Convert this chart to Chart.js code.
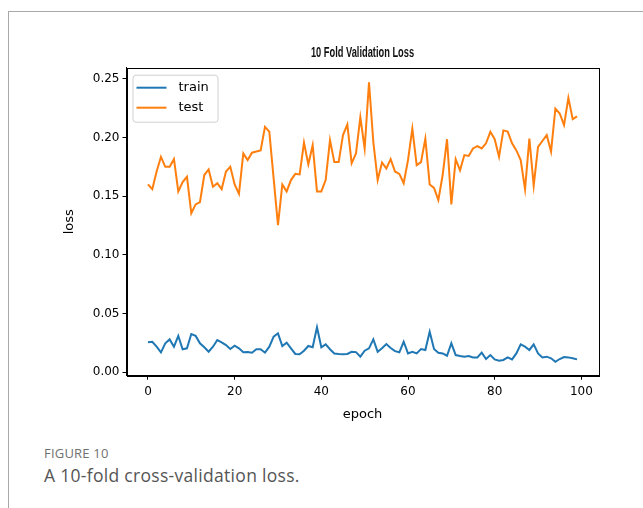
<!DOCTYPE html>
<html>
<head>
<meta charset="utf-8">
<script src="https://cdn.jsdelivr.net/npm/chart.js@4/dist/chart.umd.min.js"></script>
<style>
  html, body { margin: 0; padding: 0; background: #fff; }
  body { width: 643px; height: 508px; position: relative; overflow: hidden; }
  .frame {
    position: absolute; left: 8px; top: 11px; right: -5px; bottom: -5px;
    border-top: 1.5px solid #a8a8a8; border-left: 1.5px solid #a8a8a8;
  }
  #wrap { position: absolute; left: 0; top: 0; width: 643px; height: 430px; }
  .fig-num {
    position: absolute; left: 44px; top: 444px;
    font-family: "Open Sans", sans-serif; font-size: 13px; color: #707070;
    letter-spacing: 0.2px;
  }
  .fig-cap {
    position: absolute; left: 44px; top: 463px;
    font-family: "Open Sans", sans-serif; font-size: 17.5px; color: #555;
    letter-spacing: 0.3px;
  }
</style>
</head>
<body>
<div class="frame"></div>
<div id="wrap"><canvas id="lossChart"></canvas></div>
<div class="fig-num">FIGURE 10</div>
<div class="fig-cap">A 10-fold cross-validation loss.</div>
<script>
const epochs = Array.from({ length: 100 }, (_, i) => i);

const trainLoss = [
  0.0255, 0.026, 0.0218, 0.017, 0.0247, 0.028, 0.0218, 0.031, 0.0196, 0.0204,
  0.0326, 0.031, 0.0247, 0.0213, 0.0175, 0.0218, 0.0275, 0.0255, 0.0232, 0.0198,
  0.0226, 0.0204, 0.017, 0.0172, 0.0167, 0.0196, 0.0196, 0.0167, 0.0218, 0.0303,
  0.0332, 0.0224, 0.0252, 0.0204, 0.0156, 0.0153, 0.0184, 0.0224, 0.0213, 0.0383,
  0.0213, 0.0238, 0.0196, 0.016, 0.0156, 0.0153, 0.0156, 0.0175, 0.0172, 0.0133,
  0.0184, 0.0204, 0.028, 0.0175, 0.0204, 0.024, 0.0207, 0.018, 0.017, 0.026,
  0.0161, 0.0175, 0.0161, 0.0198, 0.019, 0.0345, 0.0198, 0.0167, 0.0161, 0.0141,
  0.0247, 0.0147, 0.0139, 0.0133, 0.0139, 0.0127, 0.0127, 0.0167, 0.0113, 0.0147,
  0.011, 0.0099, 0.0105, 0.0127, 0.011, 0.0161, 0.0238, 0.0218, 0.019, 0.0238,
  0.0161, 0.0127, 0.0133, 0.0119, 0.009, 0.0113, 0.013, 0.0127, 0.0119, 0.011
];

const testLoss = [
  0.160, 0.156, 0.171, 0.1835, 0.175, 0.175, 0.1815, 0.154, 0.162, 0.1665,
  0.1354, 0.143, 0.145, 0.168, 0.1728, 0.158, 0.161, 0.156, 0.171, 0.175,
  0.160, 0.152, 0.1864, 0.1807, 0.187, 0.188, 0.189, 0.209, 0.205, 0.165,
  0.1254, 0.160, 0.154, 0.1637, 0.169, 0.1685, 0.1957, 0.177, 0.1934, 0.154,
  0.154, 0.1637, 0.1977, 0.179, 0.179, 0.202, 0.211, 0.178, 0.1864, 0.2172,
  0.1906, 0.247, 0.196, 0.1637, 0.1787, 0.1736, 0.1815, 0.171, 0.169, 0.161,
  0.1807, 0.2076, 0.1764, 0.179, 0.199, 0.160, 0.157, 0.1467, 0.168, 0.1985,
  0.143, 0.1815, 0.172, 0.185, 0.1843, 0.1906, 0.1926, 0.1906, 0.195, 0.2048,
  0.1985, 0.1835, 0.206, 0.205, 0.195, 0.189, 0.1807, 0.156, 0.199, 0.159,
  0.192, 0.197, 0.202, 0.188, 0.2246, 0.2204, 0.2105, 0.2337, 0.2156, 0.218
];

const xTicks = [0, 20, 40, 60, 80, 100];
const yTicks = [0.00, 0.05, 0.10, 0.15, 0.20, 0.25];
const chartTitle = '10 Fold Validation Loss';

const tickFont = { family: 'DejaVu Sans', size: 12 };

// top/right spines like matplotlib
const boxPlugin = {
  id: 'box',
  afterDatasetsDraw(chart) {
    const { ctx, chartArea: a } = chart;
    ctx.save();
    ctx.strokeStyle = '#000';
    ctx.lineWidth = 1;
    ctx.strokeRect(Math.round(a.left) + 0.5, Math.round(a.top) + 0.5,
      Math.round(a.right - a.left), Math.round(a.bottom - a.top));
    ctx.restore();
  }
};

// condensed bold title above the axes
const condensedTitle = {
  id: 'condensedTitle',
  afterDraw(chart) {
    const { ctx, chartArea: a } = chart;
    ctx.save();
    ctx.font = 'bold 14.5px "Liberation Sans"';
    ctx.fillStyle = '#111';
    ctx.textAlign = 'center';
    ctx.textBaseline = 'middle';
    ctx.translate((a.left + a.right) / 2, 53);
    ctx.scale(0.64, 1);
    ctx.fillText(chartTitle, 0, 0);
    ctx.restore();
  }
};

// legend box inside the plot, top left
const innerLegend = {
  id: 'innerLegend',
  afterDraw(chart) {
    const { ctx, chartArea: a } = chart;
    const x = a.left + 6, y = a.top + 7, w = 85, h = 47;
    ctx.save();
    ctx.fillStyle = 'rgba(255,255,255,0.85)';
    ctx.strokeStyle = '#d0d0d0';
    ctx.lineWidth = 1;
    ctx.beginPath();
    ctx.roundRect(x + 0.5, y + 0.5, w, h, 3);
    ctx.fill();
    ctx.stroke();
    ctx.font = '13px "DejaVu Sans"';
    ctx.textBaseline = 'middle';
    chart.data.datasets.forEach((ds, i) => {
      const ly = y + 13 + i * 20;
      ctx.strokeStyle = ds.borderColor;
      ctx.lineWidth = 2;
      ctx.beginPath();
      ctx.moveTo(x + 4, ly);
      ctx.lineTo(x + 34, ly);
      ctx.stroke();
      ctx.fillStyle = '#000';
      ctx.fillText(ds.label, x + 46, ly);
    });
    ctx.restore();
  }
};

new Chart(document.getElementById('lossChart'), {
  type: 'line',
  data: {
    datasets: [
      {
        label: 'train',
        data: epochs.map((e, i) => ({ x: e, y: trainLoss[i] })),
        borderColor: '#1f77b4',
        borderWidth: 2,
        pointRadius: 0,
        tension: 0,
        fill: false
      },
      {
        label: 'test',
        data: epochs.map((e, i) => ({ x: e, y: testLoss[i] })),
        borderColor: '#ff7f0e',
        borderWidth: 2,
        pointRadius: 0,
        tension: 0,
        fill: false
      }
    ]
  },
  options: {
    responsive: true,
    maintainAspectRatio: false,
    animation: false,
    layout: { padding: { left: 62, right: 44.5, top: 67.7, bottom: 8 } },
    plugins: {
      legend: { display: false },
      tooltip: { enabled: false },
      title: { display: false }
    },
    scales: {
      x: {
        type: 'linear',
        min: -4.95,
        max: 103.95,
        afterBuildTicks: s => { s.ticks = xTicks.map(v => ({ value: v })); },
        afterFit: s => { s.height = 46.3; },
        grid: { drawOnChartArea: false, drawTicks: true, tickLength: 4, color: '#000' },
        border: { display: true, color: '#000', width: 1 },
        ticks: { color: '#000', font: tickFont, padding: 5, maxRotation: 0 },
        title: { display: true, text: 'epoch', color: '#000', font: { family: 'DejaVu Sans', size: 13 }, padding: 0 }
      },
      y: {
        min: -0.0029,
        max: 0.2594,
        afterBuildTicks: s => { s.ticks = yTicks.map(v => ({ value: v })); },
        afterFit: s => { s.width = 64.5; },
        grid: { drawOnChartArea: false, drawTicks: true, tickLength: 4, color: '#000' },
        border: { display: true, color: '#000', width: 1 },
        ticks: { color: '#000', font: tickFont, padding: 3, callback: v => v.toFixed(2) },
        title: { display: true, text: 'loss', color: '#000', font: { family: 'DejaVu Sans', size: 13 }, padding: 0 }
      }
    }
  },
  plugins: [boxPlugin, condensedTitle, innerLegend]
});
</script>
</body>
</html>
